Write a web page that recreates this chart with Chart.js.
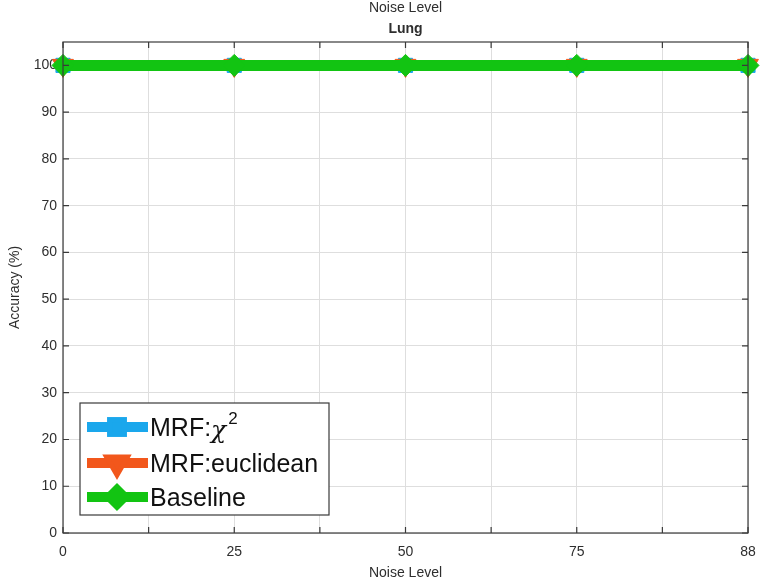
<!DOCTYPE html>
<html>
<head>
<meta charset="utf-8">
<script src="https://cdn.jsdelivr.net/npm/chart.js@4"></script>
<style>
  html, body { margin: 0; padding: 0; background: #fff; }
  #wrap { width: 768px; height: 583px; }
</style>
</head>
<body>
<div id="wrap"><canvas id="lungChart" width="768" height="583"></canvas></div>
<script>
// Lung accuracy vs noise level
const noiseLabels = ['0', '25', '50', '75', '88'];
const chiSquared = [100, 100, 100, 100, 100];
const euclidean = [100, 100, 100, 100, 100];
const baseline = [100, 100, 100, 100, 100];
const yTicks = [0, 10, 20, 30, 40, 50, 60, 70, 80, 90, 100];

const FONT = '"Liberation Sans", Arial, sans-serif';
const TEXT = '#2e2e2e';

function toPoints(values) {
    return values.map((v, i) => ({ x: i, y: v }));
}

// MATLAB style box, inward ticks, titles and legend
const matlabLook = {
    id: 'matlabLook',
    afterDraw(chart) {
        const ctx = chart.ctx;
        const a = chart.chartArea;
        const xs = chart.scales.x;
        const ys = chart.scales.y;
        ctx.save();

        // box + inward ticks
        ctx.strokeStyle = '#3a3a3a';
        ctx.lineWidth = 1.2;
        ctx.strokeRect(a.left, a.top, a.right - a.left, a.bottom - a.top);
        ctx.beginPath();
        xs.ticks.forEach(t => {
            const px = xs.getPixelForValue(t.value);
            ctx.moveTo(px, a.bottom); ctx.lineTo(px, a.bottom - 6);
            ctx.moveTo(px, a.top); ctx.lineTo(px, a.top + 6);
        });
        ys.ticks.forEach(t => {
            const py = ys.getPixelForValue(t.value);
            ctx.moveTo(a.left, py); ctx.lineTo(a.left + 6, py);
            ctx.moveTo(a.right, py); ctx.lineTo(a.right - 6, py);
        });
        ctx.stroke();

        // titles
        ctx.fillStyle = TEXT;
        ctx.textAlign = 'center';
        ctx.textBaseline = 'middle';
        ctx.font = '14px ' + FONT;
        ctx.fillText('Noise Level', (a.left + a.right) / 2, 8);
        ctx.font = 'bold 14px ' + FONT;
        ctx.fillText('Lung', (a.left + a.right) / 2, 29);
        ctx.font = '14px ' + FONT;
        ctx.fillText('Noise Level', (a.left + a.right) / 2, 573);
        ctx.save();
        ctx.translate(15, (a.top + a.bottom) / 2);
        ctx.rotate(-Math.PI / 2);
        ctx.fillText('Accuracy (%)', 0, 0);
        ctx.restore();

        // legend box
        const bx = 80, by = 403, bw = 249, bh = 112;
        ctx.fillStyle = '#fff';
        ctx.fillRect(bx, by, bw, bh);
        ctx.strokeStyle = '#3a3a3a';
        ctx.lineWidth = 1.2;
        ctx.strokeRect(bx, by, bw, bh);

        const rows = [427, 463, 497];
        chart.data.datasets.forEach((ds, i) => {
            const y = rows[i];
            ctx.strokeStyle = ds.borderColor;
            ctx.lineWidth = 10;
            ctx.beginPath();
            ctx.moveTo(87, y); ctx.lineTo(148, y);
            ctx.stroke();
            Chart.helpers.drawPoint(ctx, {
                pointStyle: ds.pointStyle,
                rotation: ds.pointRotation || 0,
                radius: 7,
                borderWidth: 1
            }, 117, y);
            ctx.fillStyle = ds.borderColor;
            ctx.strokeStyle = ds.borderColor;
            ctx.fill();

            ctx.fillStyle = '#111';
            ctx.textAlign = 'left';
            ctx.textBaseline = 'middle';
            if (i === 0) {
                ctx.font = '25px ' + FONT;
                ctx.fillText('MRF:', 150, y + 2);
                const w = ctx.measureText('MRF:').width;
                ctx.font = 'italic 25px "DejaVu Serif", serif';
                ctx.fillText('\u03C7', 150 + w, y + 4);
                const w2 = ctx.measureText('\u03C7').width;
                ctx.font = '17px ' + FONT;
                ctx.fillText('2', 150 + w + w2 + 2, y - 8);
            } else {
                ctx.font = '25px ' + FONT;
                ctx.fillText(ds.label, 150, y + 2);
            }
        });
        ctx.restore();
    }
};

new Chart(document.getElementById('lungChart'), {
    type: 'line',
    data: {
        datasets: [
            {
                label: 'MRF:\u03C7\u00B2',
                data: toPoints(chiSquared),
                borderColor: '#1aa7ec',
                backgroundColor: '#1aa7ec',
                pointStyle: 'rect',
                pointRadius: 10,
                order: 2
            },
            {
                label: 'MRF:euclidean',
                data: toPoints(euclidean),
                borderColor: '#f2571c',
                backgroundColor: '#f2571c',
                pointStyle: 'triangle',
                pointRotation: 180,
                pointRadius: 12,
                order: 1
            },
            {
                label: 'Baseline',
                data: toPoints(baseline),
                borderColor: '#12c412',
                backgroundColor: '#12c412',
                pointStyle: 'rectRot',
                pointRadius: 11,
                order: 0
            }
        ]
    },
    options: {
        responsive: false,
        animation: false,
        datasets: {
            line: { borderWidth: 11, tension: 0, clip: false, pointBorderWidth: 1 }
        },
        layout: { padding: { top: 42, right: 20, left: 0, bottom: 0 } },
        plugins: {
            legend: { display: false },
            title: { display: false },
            tooltip: { enabled: false }
        },
        scales: {
            x: {
                type: 'linear',
                min: 0,
                max: noiseLabels.length - 1,
                afterFit: s => { s.height = 50; },
                afterBuildTicks: s => {
                    const t = [];
                    for (let v = 0; v <= noiseLabels.length - 1; v += 0.5) t.push({ value: v });
                    s.ticks = t;
                },
                grid: { color: '#dedede', drawTicks: false },
                border: { display: false },
                ticks: {
                    autoSkip: false,
                    maxRotation: 0,
                    padding: 11,
                    color: TEXT,
                    font: { family: FONT, size: 14 },
                    callback: v => Number.isInteger(v) ? noiseLabels[v] : ''
                }
            },
            y: {
                min: 0,
                max: 105,
                afterFit: s => { s.width = 63; },
                afterBuildTicks: s => { s.ticks = yTicks.map(v => ({ value: v })); },
                grid: { color: '#dedede', drawTicks: false },
                border: { display: false },
                ticks: {
                    padding: 6,
                    color: TEXT,
                    font: { family: FONT, size: 14 }
                }
            }
        }
    },
    plugins: [matlabLook]
});
</script>
</body>
</html>
